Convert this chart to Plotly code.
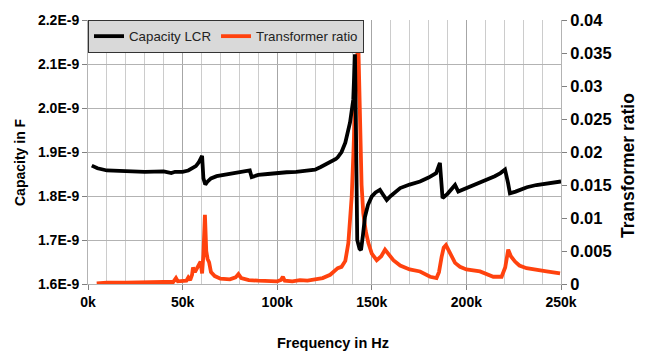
import plotly.graph_objects as go

# Capacity LCR (frequency in kHz, capacity in nF)
cap_freq_khz = [2, 5, 10, 15, 20, 30, 40, 44, 46, 50, 53, 55, 57, 58.5, 59.5, 60.3,
                61, 62, 63, 65, 68, 72, 76, 80, 84, 85.5, 86.5, 88, 90, 95, 100, 105,
                110, 115, 120, 123, 127, 131, 132, 134, 136, 138.5, 140.2, 141.1, 141.5,
                142.3, 143.5, 144.3, 145.3, 146.4, 148, 150, 152, 154.3, 156, 157.9, 160,
                165, 170, 175.5, 180, 184, 186, 187.4, 190, 194, 195.7, 198, 202, 206,
                210.7, 215, 218, 220.4, 222, 223, 226, 228.3, 232, 237, 242, 246, 250]
cap_nf = [1.869, 1.863, 1.858, 1.857, 1.856, 1.855, 1.856, 1.852, 1.855, 1.855, 1.858,
          1.862, 1.868, 1.876, 1.885, 1.891, 1.84, 1.826, 1.832, 1.84, 1.845, 1.848, 1.85,
          1.852, 1.855, 1.858, 1.843, 1.845, 1.848, 1.85, 1.853, 1.854, 1.855, 1.857, 1.86,
          1.866, 1.874, 1.884, 1.888, 1.9, 1.921, 1.967, 2.019, 2.122, 2.0, 1.70, 1.68,
          1.677, 1.71, 1.753, 1.78, 1.799, 1.808, 1.814, 1.803, 1.791, 1.8, 1.818, 1.826,
          1.833, 1.842, 1.852, 1.875, 1.795, 1.805, 1.825, 1.81, 1.814, 1.822, 1.829,
          1.837, 1.845, 1.852, 1.86, 1.83, 1.806, 1.81, 1.814, 1.82, 1.825, 1.828, 1.832,
          1.833]

# Transformer ratio
ratio_freq_khz = [4.6, 10, 20, 30, 40, 45, 46.5, 47.5, 50, 52, 53, 54, 55, 55.5, 56.5,
                  57.5, 58.5, 59.5, 60.3, 61, 61.8, 62.5, 63.2, 64, 65, 67, 70, 75, 78,
                  79.5, 81, 83, 85, 90, 95, 100, 102, 103, 104, 108, 112, 116, 120, 124,
                  128, 131, 132, 134, 136, 137.6, 138.5, 139.4, 140.3, 141.1, 142, 142.9,
                  143.8, 144.6, 145.5, 146.8, 148.2, 150, 152.6, 155, 157, 159, 161.4, 165,
                  170, 175.5, 180.8, 184.2, 185.5, 186.9, 188, 189.2, 190.5, 192.2, 194,
                  196.6, 200, 207.2, 214.2, 218.6, 220.5, 222.1, 223.5, 225.7, 228, 231.8,
                  237, 242.4, 249.5]
ratio = [0.0001, 0.0002, 0.0002, 0.0003, 0.0003, 0.0003, 0.0009, 0.0004, 0.0005, 0.0005,
         0.001, 0.0006, 0.0014, 0.0025, 0.0018, 0.0024, 0.003, 0.0034, 0.0016, 0.0045,
         0.0105, 0.005, 0.0038, 0.0033, 0.0018, 0.0012, 0.0008, 0.0007, 0.001, 0.0015,
         0.0009, 0.0008, 0.0006, 0.0005, 0.0004, 0.0004, 0.0006, 0.0011, 0.0005, 0.0004,
         0.0006, 0.0005, 0.0007, 0.0009, 0.0014, 0.0021, 0.0024, 0.0026, 0.0035, 0.0062,
         0.009, 0.0133, 0.02, 0.0285, 0.034, 0.036, 0.0209, 0.015, 0.0107, 0.008, 0.0062,
         0.0046, 0.0036, 0.0042, 0.0052, 0.0044, 0.0036, 0.0028, 0.0022, 0.0019, 0.0011,
         0.0009, 0.0018, 0.0041, 0.0055, 0.0059, 0.0052, 0.0041, 0.0032, 0.0026, 0.0022,
         0.0019, 0.0011, 0.0011, 0.0025, 0.0052, 0.0042, 0.0034, 0.0028, 0.0024, 0.0021,
         0.0019, 0.0016]

assert len(cap_freq_khz) == len(cap_nf)
assert len(ratio_freq_khz) == len(ratio)

x_tick_vals = [0, 50, 100, 150, 200, 250]
x_tick_text = ["0k", "50k", "100k", "150k", "200k", "250k"]
cap_tick_vals = [1.6, 1.7, 1.8, 1.9, 2.0, 2.1, 2.2]
cap_tick_text = ["1.6E-9", "1.7E-9", "1.8E-9", "1.9E-9", "2.0E-9", "2.1E-9", "2.2E-9"]
ratio_tick_vals = [0, 0.005, 0.01, 0.015, 0.02, 0.025, 0.03, 0.035, 0.04]
ratio_tick_text = ["0", "0.005", "0.01", "0.015", "0.02", "0.025", "0.03", "0.035", "0.04"]

FONT = "Liberation Sans"
BOLD = dict(family=FONT, color="#000000", weight="bold")

fig = go.Figure()
fig.add_trace(go.Scatter(x=cap_freq_khz, y=cap_nf, name="Capacity LCR", yaxis="y2",
                         mode="lines", line=dict(color="#000000", width=3.8)))
fig.add_trace(go.Scatter(x=ratio_freq_khz, y=ratio, name="Transformer ratio", yaxis="y",
                         mode="lines", line=dict(color="#ff420e", width=3.8)))

fig.update_layout(
    width=648, height=352,
    margin=dict(l=88, r=87, t=20, b=68),
    paper_bgcolor="#ffffff", plot_bgcolor="#ffffff",
    showlegend=True,
    legend=dict(orientation="h", x=0, y=1, xanchor="left", yanchor="top",
                bgcolor="#d9d9d9", bordercolor="#333333", borderwidth=1,
                font=dict(family=FONT, size=13.3, color="#222222"),
                itemwidth=30, tracegroupgap=0),
    xaxis=dict(range=[0, 250], tickvals=x_tick_vals, ticktext=x_tick_text,
               showgrid=True, gridcolor="#a6a6a6", gridwidth=1,
               minor=dict(tickmode="linear", tick0=0, dtick=10, showgrid=True,
                          gridcolor="#cccccc", gridwidth=1, ticks=""),
               showline=True, linecolor="#b3b3b3", linewidth=1,
               ticks="outside", ticklen=5, tickcolor="#808080",
               tickfont=dict(BOLD, size=14), zeroline=False),
    yaxis=dict(range=[0, 0.04], side="right", tickvals=ratio_tick_vals,
               ticktext=ratio_tick_text, showgrid=False, zeroline=False,
               showline=True, linecolor="#b3b3b3", linewidth=1,
               ticks="outside", ticklen=5, tickcolor="#808080",
               tickfont=dict(BOLD, size=16.5)),
    yaxis2=dict(range=[1.6, 2.2], side="left", overlaying="y", tickvals=cap_tick_vals,
                ticktext=cap_tick_text, showgrid=True, gridcolor="#b3b3b3", gridwidth=1,
                zeroline=False, showline=True, linecolor="#b3b3b3", linewidth=1,
                ticks="outside", ticklen=5, tickcolor="#808080",
                tickfont=dict(BOLD, size=14)),
    annotations=[
        dict(text="Capacity in F", xref="paper", yref="paper",
             x=(20 - 88) / 473, y=(284 - 162) / 264, textangle=-90, showarrow=False,
             xanchor="center", yanchor="middle", font=dict(BOLD, size=14)),
        dict(text="Transformer ratio", xref="paper", yref="paper",
             x=(628 - 88) / 473, y=(284 - 166) / 264, textangle=-90, showarrow=False,
             xanchor="center", yanchor="middle", font=dict(BOLD, size=17.5)),
        dict(text="Frequency in Hz", xref="paper", yref="paper",
             x=(333 - 88) / 473, y=(284 - 343) / 264, showarrow=False,
             xanchor="center", yanchor="middle", font=dict(BOLD, size=14.5)),
    ],
)

fig.write_html("out.html")
